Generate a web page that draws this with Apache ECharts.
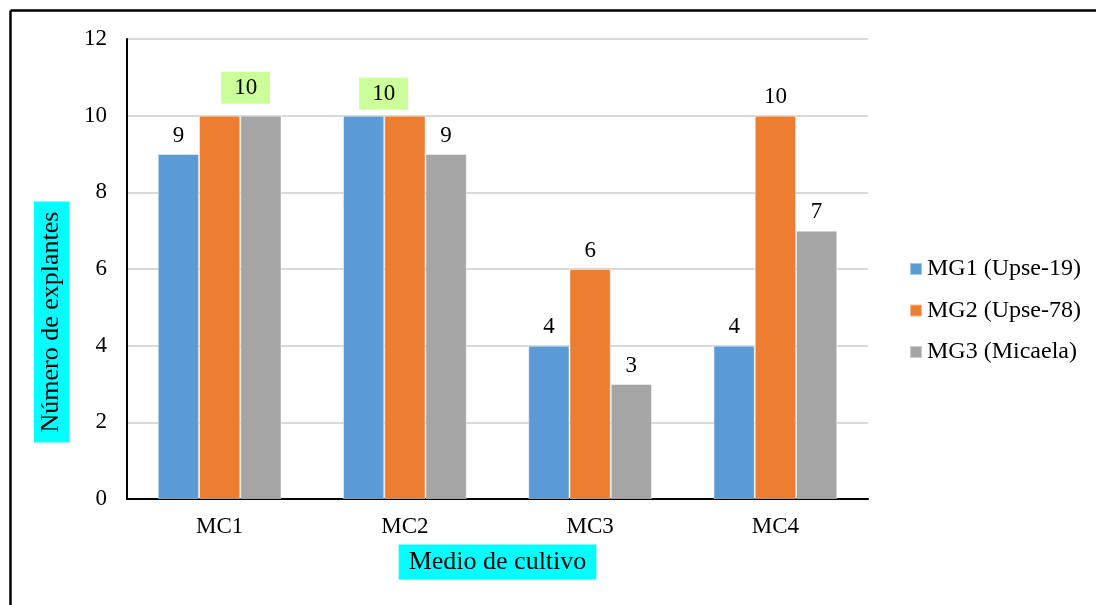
<!DOCTYPE html>
<html>
<head>
<meta charset="utf-8">
<script src="https://cdn.jsdelivr.net/npm/echarts@6/dist/echarts.min.js"></script>
<style>
  html, body { margin: 0; padding: 0; background: #fff; }
  #chart { width: 1096px; height: 605px; }
</style>
</head>
<body>
<div id="chart"></div>
<script>
const categories = ['MC1', 'MC2', 'MC3', 'MC4'];
const seriesNames = ['MG1 (Upse-19)', 'MG2 (Upse-78)', 'MG3 (Micaela)'];
const mg1 = [9, 10, 4, 4];
const mg2 = [10, 10, 6, 10];
const mg3 = [10, 9, 3, 7];
const yTicks = [0, 2, 4, 6, 8, 10, 12];

const FONT = '"Liberation Serif", "Times New Roman", serif';
const colors = ['#5b9bd5', '#ed7d31', '#a5a5a5'];

// Where two neighbouring bars share the same height, one highlighted label
// is drawn between them and the twin label is hidden.
// key: "seriesIndex-categoryIndex"
const sharedLabel = {
  '1-0': { offset: [26, 0], distance: 12 },
  '0-1': { offset: [20, 0], distance: 6 }
};
const hiddenLabel = { '2-0': true, '1-1': true };

function buildData(values, si) {
  return values.map((v, ci) => {
    const key = si + '-' + ci;
    if (hiddenLabel[key]) return { value: v, label: { show: false } };
    if (sharedLabel[key]) {
      return {
        value: v,
        label: {
          show: true,
          offset: sharedLabel[key].offset,
          distance: sharedLabel[key].distance,
          backgroundColor: '#ccff99',
          padding: [5, 13, 4, 13]
        }
      };
    }
    return v;
  });
}

const allSeries = [mg1, mg2, mg3].map((vals, si) => ({
  name: seriesNames[si],
  type: 'bar',
  data: buildData(vals, si),
  barGap: '0%',
  barCategoryGap: '33.2%',
  itemStyle: { color: colors[si], borderColor: 'rgba(255,255,255,0.45)', borderWidth: 1 },
  label: {
    show: true,
    position: 'top',
    distance: 7,
    color: '#000',
    fontFamily: FONT,
    fontSize: 23
  },
  emphasis: { disabled: true }
}));

const chart = echarts.init(document.getElementById('chart'), null, { renderer: 'canvas' });
chart.setOption({
  backgroundColor: '#fff',
  animation: false,
  grid: { left: 127, right: 228, top: 39, bottom: 106, containLabel: false },
  legend: {
    orient: 'vertical',
    left: 909,
    top: 257,
    padding: 0,
    itemWidth: 12,
    itemHeight: 12,
    itemGap: 17.5,
    icon: 'rect',
    textStyle: { fontFamily: FONT, fontSize: 24, color: '#000', lineHeight: 24 },
    data: seriesNames
  },
  xAxis: {
    type: 'category',
    data: categories,
    axisLine: { show: true, lineStyle: { color: '#000', width: 2 } },
    axisTick: { show: false },
    axisLabel: { color: '#000', fontFamily: FONT, fontSize: 23, margin: 16 }
  },
  yAxis: {
    type: 'value',
    min: yTicks[0],
    max: yTicks[yTicks.length - 1],
    interval: yTicks[1] - yTicks[0],
    axisLine: { show: true, lineStyle: { color: '#000', width: 2 } },
    axisTick: { show: false },
    axisLabel: { color: '#000', fontFamily: FONT, fontSize: 23, margin: 20 },
    splitLine: { show: true, lineStyle: { color: '#d9d9d9', width: 2 } }
  },
  series: allSeries,
  graphic: [
    {
      type: 'line',
      shape: { x1: 10.5, y1: 10.5, x2: 1096, y2: 10.5 },
      style: { stroke: '#000', lineWidth: 2.5 },
      silent: true
    },
    {
      type: 'line',
      shape: { x1: 10.5, y1: 10.5, x2: 10.5, y2: 605 },
      style: { stroke: '#000', lineWidth: 2.5 },
      silent: true
    },
    {
      type: 'text',
      x: 51.5,
      y: 322,
      rotation: Math.PI / 2,
      style: {
        text: 'Número de explantes',
        font: '26px ' + FONT,
        fill: '#000',
        align: 'center',
        verticalAlign: 'middle',
        backgroundColor: '#00ffff',
        padding: [5, 10, 4, 10]
      },
      silent: true
    },
    {
      type: 'text',
      x: 497.5,
      y: 562,
      style: {
        text: 'Medio de cultivo',
        font: '26px ' + FONT,
        fill: '#000',
        align: 'center',
        verticalAlign: 'middle',
        backgroundColor: '#00ffff',
        padding: [5, 10, 4, 10]
      },
      silent: true
    }
  ]
});
</script>
</body>
</html>
